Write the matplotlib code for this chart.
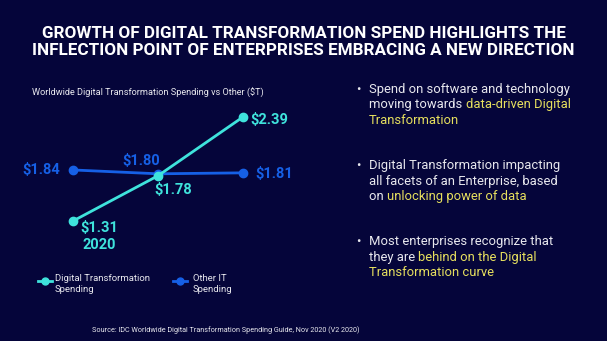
import matplotlib
matplotlib.use("Agg")
import matplotlib.pyplot as plt

plt.rcParams['font.family'] = ['Roboto', 'DejaVu Sans']

# data ($T)
points = ['2020', 'mid', 'end']
dt_spend = [1.31, 1.78, 2.39]
other_spend = [1.84, 1.80, 1.81]
dt_labels = ['$1.31', '$1.78', '$2.39']
other_labels = ['$1.84', '$1.80', '$1.81']
series_names = ['Digital Transformation\nSpending', 'Other IT\nSpending']

bg = '#05053a'
cyan = '#3fe3dc'
blue = '#1660e6'
yellow = '#e6df5e'
white = '#e8e8ee'

fig = plt.figure(figsize=(6.07, 3.41), dpi=100, facecolor=bg)

# title
fig.text(0.5, 1 - 42 / 341, 'GROWTH OF DIGITAL TRANSFORMATION SPEND HIGHLIGHTS THE\n'
         'INFLECTION POINT OF ENTERPRISES EMBRACING A NEW DIRECTION',
         ha='center', va='center', color='white', fontsize=12.3, fontweight='bold',
         linespacing=1.2)

# chart
ax = fig.add_axes([0, (341 - 250) / 341, 310 / 607, 160 / 341])
ax.patch.set_alpha(0)
x = list(range(len(points)))
ax.plot(x, other_spend, color=blue, lw=2, marker='o', ms=6, zorder=2)
ax.plot(x, dt_spend, color=cyan, lw=2, marker='o', ms=6, zorder=3)
ax.set_xlim(-73 / 85, (310 - 73) / 85)
ax.set_ylim(1.009, 2.67)
ax.axis('off')

lbl = dict(textcoords='offset points', fontsize=10.5, fontweight='bold', va='center')
ax.annotate(dt_labels[0], (x[0], dt_spend[0]), xytext=(5, -5), ha='left', color=cyan, **lbl)
ax.annotate(points[0], (x[0], dt_spend[0]), xytext=(7, -17), ha='left', color=cyan, **lbl)
ax.annotate(dt_labels[1], (x[1], dt_spend[1]), xytext=(11, -10), ha='center', color=cyan, **lbl)
ax.annotate(dt_labels[2], (x[2], dt_spend[2]), xytext=(5, -2), ha='left', color=cyan, **lbl)
ax.annotate(other_labels[0], (x[0], other_spend[0]), xytext=(-9, 0), ha='right', color=blue, **lbl)
ax.annotate(other_labels[1], (x[1], other_spend[1]), xytext=(-12, 9), ha='center', color=blue, **lbl)
ax.annotate(other_labels[2], (x[2], other_spend[2]), xytext=(9, -1), ha='left', color=blue, **lbl)

fig.text(32 / 607, 1 - 93 / 341, 'Worldwide Digital Transformation Spending vs Other ($T)',
         color=white, fontsize=6.6, va='center', ha='left')

# legend
for lx, tx, name, c in [(45, 55, series_names[0], cyan), (180, 193, series_names[1], blue)]:
    ly = 1 - 281 / 341
    fig.lines.append(plt.Line2D([(lx - 7) / 607, (lx + 7) / 607], [ly, ly],
                                transform=fig.transFigure, color=c, lw=2))
    fig.lines.append(plt.Line2D([lx / 607], [ly], transform=fig.transFigure,
                                color=c, marker='o', ms=5))
    fig.text(tx / 607, 1 - 274 / 341, name, color=white, fontsize=6.8,
             va='top', ha='left', linespacing=1.3)

fig.text(92 / 607, 1 - 330 / 341,
         'Source: IDC Worldwide Digital Transformation Spending Guide, Nov 2020 (V2 2020)',
         color=white, fontsize=5.2, va='center', ha='left')

# bullets
bullets = [
    [[('Spend on software and technology', white)],
     [('moving towards ', white), ('data-driven Digital', yellow)],
     [('Transformation', yellow)]],
    [[('Digital Transformation impacting', white)],
     [('all facets of an Enterprise, based', white)],
     [('on ', white), ('unlocking power of data', yellow)]],
    [[('Most enterprises recognize that', white)],
     [('they are ', white), ('behind on the Digital', yellow)],
     [('Transformation curve', yellow)]],
]
starts = [90, 166, 242]
fs = 9.4
for y0, lines in zip(starts, bullets):
    fig.text(356 / 607, 1 - y0 / 341, '\u2022', color=white, fontsize=fs, va='center', ha='left')
    for i, segs in enumerate(lines):
        yy = 1 - (y0 + 15 * i) / 341
        prev = None
        for txt, c in segs:
            if prev is None:
                prev = fig.text(369 / 607, yy, txt, color=c, fontsize=fs, va='center', ha='left')
            else:
                # continue on the same line, right after the previous piece
                prev = ax.annotate(txt, xy=(1, 0), xycoords=prev, va='bottom', ha='left',
                                   color=c, fontsize=fs, annotation_clip=False)

fig.savefig('out.png', dpi=100, facecolor=bg)
